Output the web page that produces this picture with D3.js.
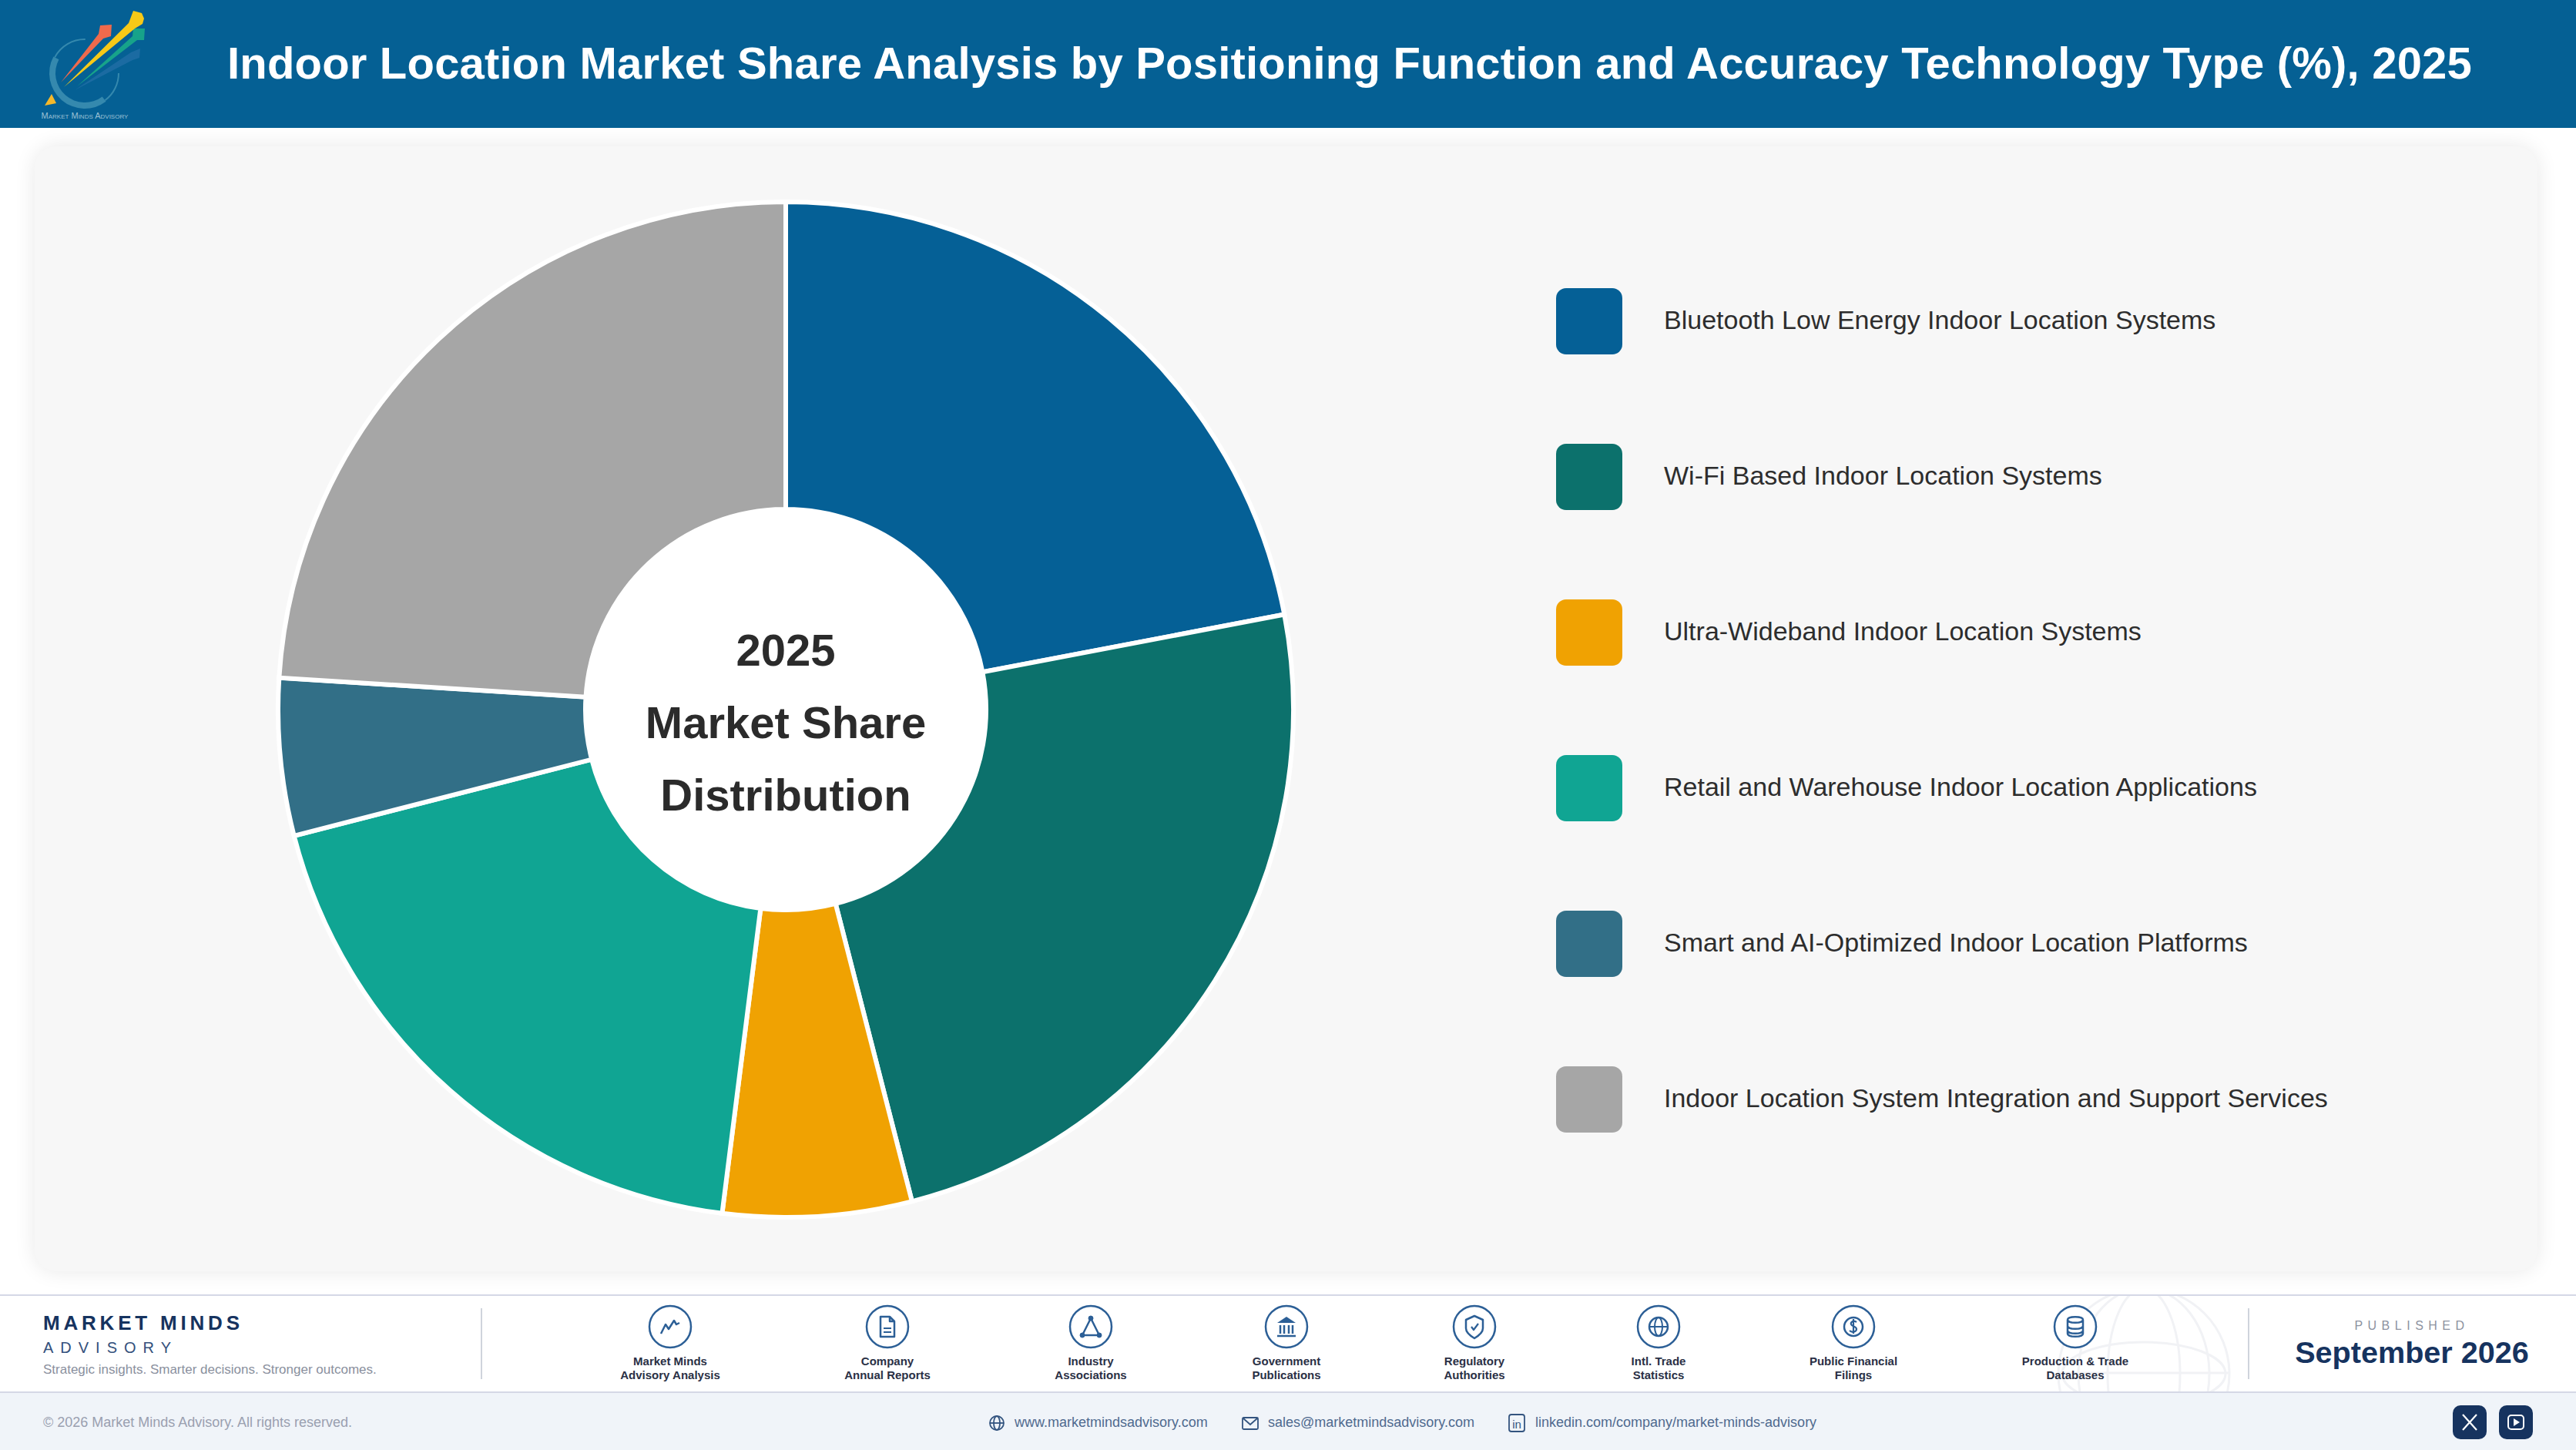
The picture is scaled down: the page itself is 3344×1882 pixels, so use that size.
<!DOCTYPE html>
<html>
<head>
<meta charset="utf-8">
<title>Indoor Location Market Share</title>
<script src="https://cdn.jsdelivr.net/npm/d3@7"></script>
<style>
  html, body { margin: 0; padding: 0; background: #fff; }
  svg { display: block; }
  text { font-family: "Liberation Sans", Arial, sans-serif; }
</style>
</head>
<body>
<div id="chart"></div>
<script>
// values
const categories = [
  "Bluetooth Low Energy Indoor Location Systems",
  "Wi-Fi Based Indoor Location Systems",
  "Ultra-Wideband Indoor Location Systems",
  "Retail and Warehouse Indoor Location Applications",
  "Smart and AI-Optimized Indoor Location Platforms",
  "Indoor Location System Integration and Support Services"
];
const shares = [22, 24, 6, 19, 5, 24];
const colors = ["#056096", "#0c716c", "#f0a202", "#10a593", "#326f87", "#a6a6a6"];

const titleText = "Indoor Location Market Share Analysis by Positioning Function and Accuracy Technology Type (%), 2025";
const centerLines = ["2025", "Market Share", "Distribution"];

const sourceLabels = [
  ["Market Minds", "Advisory Analysis"],
  ["Company", "Annual Reports"],
  ["Industry", "Associations"],
  ["Government", "Publications"],
  ["Regulatory", "Authorities"],
  ["Intl. Trade", "Statistics"],
  ["Public Financial", "Filings"],
  ["Production & Trade", "Databases"]
];
const sourceX = [870, 1152, 1416, 1670, 1914, 2153, 2406, 2694];

const width = 3344;
const height = 1882;
const navy = "#16335f";
const iconBlue = "#2c5f96";

const svg = d3.select("#chart")
  .append("svg")
  .attr("width", width)
  .attr("height", height)
  .attr("viewBox", [0, 0, width, height]);

const defs = svg.append("defs");
const blur = defs.append("filter").attr("id", "cardShadow")
  .attr("x", "-5%").attr("y", "-5%").attr("width", "110%").attr("height", "110%");
blur.append("feGaussianBlur").attr("stdDeviation", 14);

defs.append("clipPath").attr("id", "footClip")
  .append("rect").attr("x", 0).attr("y", 1682).attr("width", width).attr("height", 124);

svg.append("rect").attr("width", width).attr("height", height).attr("fill", "#fff");

/*
  Header
*/
svg.append("rect").attr("width", width).attr("height", 166).attr("fill", "#056094");

const logo = svg.append("g");
const ringParts = [
  { innerRadius: 43, outerRadius: 45, startAngle: 1.57, endAngle: 2.5 },
  { innerRadius: 38, outerRadius: 46, startAngle: 2.5, endAngle: 5.2 },
  { innerRadius: 43, outerRadius: 45, startAngle: 5.2, endAngle: 6.3 }
];
logo.selectAll("path.ring")
  .data(ringParts)
  .enter()
  .append("path")
  .attr("class", "ring")
  .attr("d", d3.arc())
  .attr("transform", "translate(110,95)")
  .attr("fill", "#3589ae");
logo.append("path").attr("fill", "#2a73ac").attr("opacity", 0.6)
  .attr("d", "M97,117 L170,68 L182,63 L181,75 L172,78 Z");
logo.append("path").attr("fill", "#17a38a")
  .attr("d", "M100,112 L172,47 L173,37 L188,37 L187,52 L178,52 Z");
logo.append("path").attr("fill", "#ef6a4c")
  .attr("d", "M79,107 L128,44 L130,33 L145,32 L144,47 L134,50 Z");
logo.append("path").attr("fill", "#f7c917")
  .attr("d", "M83,113 L167,30 L173,14 L184,17 L187,24 L185,31 L175,37 Z");
logo.append("path").attr("fill", "#f5b82a")
  .attr("d", "M58,137 L67,122 L73,134 Z");
logo.append("text")
  .attr("x", 110).attr("y", 153.5)
  .attr("text-anchor", "middle")
  .attr("font-size", 11)
  .attr("fill", "#9cc0d4")
  .style("font-variant", "small-caps")
  .text("Market Minds Advisory");

svg.append("text")
  .attr("x", 1752).attr("y", 102)
  .attr("text-anchor", "middle")
  .attr("font-size", 58).attr("font-weight", 700)
  .attr("letter-spacing", 0.2)
  .attr("fill", "#fff")
  .text(titleText);

/*
  Card
*/
svg.append("rect")
  .attr("x", 45).attr("y", 190).attr("width", 3249).attr("height", 1460).attr("rx", 28)
  .attr("fill", "#000").attr("opacity", 0.09)
  .attr("filter", "url(#cardShadow)");
svg.append("rect")
  .attr("x", 45).attr("y", 190).attr("width", 3249).attr("height", 1460).attr("rx", 28)
  .attr("fill", "#f7f7f7");

/*
  Donut
*/
const cx = 1020;
const cy = 921;

const pie = d3.pie().sort(null).value((d) => d);
const arc = d3.arc().innerRadius(260).outerRadius(659);

const donut = svg.append("g").attr("transform", `translate(${cx},${cy})`);

donut.selectAll("path")
  .data(pie(shares))
  .enter()
  .append("path")
  .attr("d", arc)
  .attr("fill", (d, i) => colors[i])
  .attr("stroke", "#fff")
  .attr("stroke-width", 6)
  .attr("stroke-linejoin", "miter");

donut.append("circle").attr("r", 260).attr("fill", "#fff");

donut.selectAll("text")
  .data(centerLines)
  .enter()
  .append("text")
  .attr("y", (d, i) => -57 + i * 94)
  .attr("text-anchor", "middle")
  .attr("font-size", 58).attr("font-weight", 700)
  .attr("fill", "#2b2b2b")
  .text((d) => d);

/*
  Legend
*/
const legendY = d3.scalePoint()
  .domain(categories)
  .range([417, 1427]);

const legend = svg.append("g");

legend.selectAll("rect")
  .data(categories)
  .enter()
  .append("rect")
  .attr("x", 2020)
  .attr("y", (d) => legendY(d) - 43)
  .attr("width", 86).attr("height", 86).attr("rx", 13)
  .attr("fill", (d, i) => colors[i]);

legend.selectAll("text")
  .data(categories)
  .enter()
  .append("text")
  .attr("x", 2160)
  .attr("y", (d) => legendY(d) + 10)
  .attr("font-size", 34)
  .attr("fill", "#2d2d2d")
  .text((d) => d);

/*
  Footer strip
*/
svg.append("rect").attr("x", 0).attr("y", 1682).attr("width", width).attr("height", 124).attr("fill", "#fff");
svg.append("rect").attr("x", 0).attr("y", 1807).attr("width", width).attr("height", 75).attr("fill", "#f0f4f9");
svg.append("rect").attr("x", 0).attr("y", 1680).attr("width", width).attr("height", 2).attr("fill", "#d5d8e6");
svg.append("rect").attr("x", 0).attr("y", 1806).attr("width", width).attr("height", 2).attr("fill", "#d5d8e6");

// faint globe behind the source icons
const globe = svg.append("g")
  .attr("clip-path", "url(#footClip)")
  .attr("fill", "none")
  .attr("stroke", "#f1f2f5")
  .attr("stroke-width", 3);
globe.append("circle").attr("cx", 2783).attr("cy", 1783).attr("r", 111);
globe.append("ellipse").attr("cx", 2783).attr("cy", 1783).attr("rx", 47).attr("ry", 111);
globe.append("ellipse").attr("cx", 2783).attr("cy", 1783).attr("rx", 85).attr("ry", 111);
globe.append("ellipse").attr("cx", 2783).attr("cy", 1783).attr("rx", 106).attr("ry", 41);
globe.append("line").attr("x1", 2672).attr("x2", 2894).attr("y1", 1782).attr("y2", 1782);

svg.append("text")
  .attr("x", 56).attr("y", 1726)
  .attr("font-size", 26).attr("font-weight", 700)
  .attr("letter-spacing", 4.8)
  .attr("fill", navy)
  .text("MARKET MINDS");
svg.append("text")
  .attr("x", 56).attr("y", 1756)
  .attr("font-size", 20)
  .attr("letter-spacing", 9)
  .attr("fill", "#33507c")
  .text("ADVISORY");
svg.append("text")
  .attr("x", 56).attr("y", 1783)
  .attr("font-size", 17)
  .attr("fill", "#8a909e")
  .text("Strategic insights. Smarter decisions. Stronger outcomes.");

svg.append("rect").attr("x", 624).attr("y", 1698).attr("width", 2).attr("height", 92).attr("fill", "#cfd4dc");
svg.append("rect").attr("x", 2918).attr("y", 1698).attr("width", 2).attr("height", 92).attr("fill", "#cfd4dc");

// small icons, each drawn around 0,0
const iconDraw = [
  (g) => g.append("path").attr("fill", "none").attr("stroke-width", 2.5)
    .attr("d", "M-12,9 L-6,-3 L-2,3 L5,-8 L8,-3 L12,-5"),
  (g) => {
    g.append("path").attr("fill", "none").attr("stroke-width", 2.5)
      .attr("d", "M-9,-13 H3 L9,-7 V13 H-9 Z M3,-13 V-7 H9");
    g.append("path").attr("fill", "none").attr("stroke-width", 2)
      .attr("d", "M-5,2 H5 M-5,7 H5");
  },
  (g) => {
    g.append("path").attr("fill", "none").attr("stroke-width", 2.5)
      .attr("d", "M0,-11 L-11,11 H11 Z");
    g.selectAll("circle.node").data([[0, -11], [-11, 11], [11, 11]]).enter().append("circle")
      .attr("cx", (d) => d[0]).attr("cy", (d) => d[1]).attr("r", 3).attr("fill", iconBlue);
  },
  (g) => {
    g.append("path").attr("fill", iconBlue).attr("stroke", "none").attr("d", "M0,-13 L12,-5 H-12 Z");
    g.append("path").attr("fill", "none").attr("stroke-width", 2.5)
      .attr("d", "M-8,-2 V9 M-3,-2 V9 M3,-2 V9 M8,-2 V9 M-12,12 H12");
  },
  (g) => {
    g.append("path").attr("fill", "none").attr("stroke-width", 2.5)
      .attr("d", "M0,-14 L11,-9 V2 C11,8 5,12 0,15 C-5,12 -11,8 -11,2 V-9 Z");
    g.append("path").attr("fill", "none").attr("stroke-width", 2.2).attr("d", "M-4,0 L-1,4 L5,-4");
  },
  (g) => {
    g.append("circle").attr("r", 12).attr("fill", "none").attr("stroke-width", 2.5);
    g.append("ellipse").attr("rx", 5).attr("ry", 12).attr("fill", "none").attr("stroke-width", 2);
    g.append("path").attr("fill", "none").attr("stroke-width", 2).attr("d", "M-12,0 H12");
  },
  (g) => {
    g.append("circle").attr("r", 12).attr("fill", "none").attr("stroke-width", 2.5);
    g.append("path").attr("fill", "none").attr("stroke-width", 2.2)
      .attr("d", "M4,-6 C0,-9 -4,-6 -3,-3 C-2,0 4,-1 4,3 C4,7 -2,8 -5,5 M0,-10 V9");
  },
  (g) => {
    g.append("path").attr("fill", "none").attr("stroke-width", 2.5)
      .attr("d", "M-10,-9 C-10,-14 10,-14 10,-9 V9 C10,14 -10,14 -10,9 Z M-10,-9 C-10,-4 10,-4 10,-9 M-10,-1 C-10,4 10,4 10,-1 M-10,5 C-10,10 10,10 10,5");
  }
];

const sources = svg.append("g");
sourceLabels.forEach((lines, i) => {
  const g = sources.append("g").attr("transform", `translate(${sourceX[i]},0)`);
  g.append("circle")
    .attr("cy", 1722).attr("r", 27)
    .attr("fill", "#fff").attr("stroke", iconBlue).attr("stroke-width", 2.5);
  const ic = g.append("g").attr("transform", "translate(0,1722)").attr("stroke", iconBlue).attr("stroke-linejoin", "round");
  iconDraw[i](ic);
  lines.forEach((t, j) => {
    g.append("text")
      .attr("y", 1772 + j * 18)
      .attr("text-anchor", "middle")
      .attr("font-size", 15).attr("font-weight", 700)
      .attr("fill", "#2a3045")
      .text(t);
  });
});

svg.append("text")
  .attr("x", 3131).attr("y", 1726)
  .attr("text-anchor", "middle")
  .attr("font-size", 16)
  .attr("letter-spacing", 6.5)
  .attr("fill", "#8d92a0")
  .text("PUBLISHED");
svg.append("text")
  .attr("x", 3131).attr("y", 1769)
  .attr("text-anchor", "middle")
  .attr("font-size", 39.6).attr("font-weight", 700)
  .attr("fill", navy)
  .text("September 2026");

/*
  Bottom bar
*/
svg.append("text")
  .attr("x", 56).attr("y", 1852)
  .attr("font-size", 18)
  .attr("fill", "#9aa0b0")
  .text("\u00a9 2026 Market Minds Advisory. All rights reserved.");

const contactText = ["www.marketmindsadvisory.com", "sales@marketmindsadvisory.com", "linkedin.com/company/market-minds-advisory"];
const contactX = [1317, 1646, 1993];
const contactIconX = [1294, 1623, 1969];

svg.selectAll("text.contact")
  .data(contactText)
  .enter()
  .append("text")
  .attr("class", "contact")
  .attr("x", (d, i) => contactX[i])
  .attr("y", 1852)
  .attr("font-size", 18)
  .attr("fill", "#4f6a8f")
  .text((d) => d);

const cIcons = svg.append("g").attr("fill", "none").attr("stroke", "#33547f").attr("stroke-width", 1.8);
const c0 = cIcons.append("g").attr("transform", `translate(${contactIconX[0]},1847)`);
c0.append("circle").attr("r", 9);
c0.append("ellipse").attr("rx", 4).attr("ry", 9);
c0.append("path").attr("d", "M-9,0 H9");
const c1 = cIcons.append("g").attr("transform", `translate(${contactIconX[1]},1847)`);
c1.append("rect").attr("x", -10).attr("y", -7).attr("width", 20).attr("height", 15).attr("rx", 1.5);
c1.append("path").attr("d", "M-9,-6 L0,2 L9,-6");
const c2 = cIcons.append("g").attr("transform", `translate(${contactIconX[2]},1847)`);
c2.append("rect").attr("x", -10).attr("y", -11).attr("width", 20).attr("height", 22).attr("rx", 3);
c2.append("text").attr("text-anchor", "middle").attr("y", 7)
  .attr("font-size", 15).attr("stroke", "none").attr("fill", "#33547f").text("in");

// social buttons
svg.selectAll("rect.social")
  .data([3184, 3244])
  .enter()
  .append("rect")
  .attr("class", "social")
  .attr("x", (d) => d).attr("y", 1824)
  .attr("width", 44).attr("height", 44).attr("rx", 10)
  .attr("fill", navy);
svg.append("path")
  .attr("d", "M3197,1836 L3215,1856 M3215,1836 L3197,1856")
  .attr("stroke", "#fff").attr("stroke-width", 2.2).attr("fill", "none");
svg.append("rect")
  .attr("x", 3256).attr("y", 1837).attr("width", 20).attr("height", 18).attr("rx", 4)
  .attr("fill", "none").attr("stroke", "#fff").attr("stroke-width", 2);
svg.append("path").attr("d", "M3263,1841 L3271,1846 L3263,1851 Z").attr("fill", "#fff");
</script>
</body>
</html>
